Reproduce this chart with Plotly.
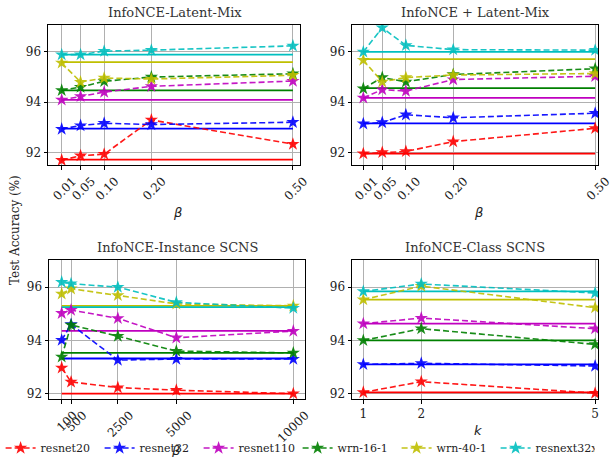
import plotly.graph_objects as go
from plotly.subplots import make_subplots

models = ["resnet20", "resnet32", "resnet110", "wrn-16-1", "wrn-40-1", "resnext32x4"]
colors = ["#ff0000", "#0000ff", "#bf00bf", "#008000", "#bfbf00", "#00bfbf"]

beta = [0.01, 0.05, 0.10, 0.20, 0.50]
beta_labels = ["0.01", "0.05", "0.10", "0.20", "0.50"]
neg_sizes = [100, 500, 2500, 5000, 10000]
k_vals = [1, 2, 5]

# InfoNCE-Latent-Mix
lm_vals = [
    [91.69, 91.87, 91.93, 93.29, 92.33],
    [92.93, 93.07, 93.16, 93.11, 93.20],
    [94.09, 94.23, 94.40, 94.63, 94.84],
    [94.47, 94.60, 94.83, 95.00, 95.13],
    [95.56, 94.80, 94.96, 94.92, 95.07],
    [95.89, 95.89, 96.03, 96.07, 96.24],
]
lm_base = [91.71, 92.95, 94.09, 94.47, 95.59, 95.89]

# InfoNCE + Latent-Mix
plm_vals = [
    [91.95, 92.00, 92.04, 92.43, 92.96],
    [93.14, 93.19, 93.50, 93.38, 93.56],
    [94.17, 94.50, 94.44, 94.90, 95.03],
    [94.54, 94.98, 94.81, 95.10, 95.33],
    [95.67, 94.81, 94.98, 95.08, 95.14],
    [96.00, 96.96, 96.26, 96.09, 96.07],
]
plm_base = [91.95, 93.16, 94.17, 94.56, 95.71, 96.00]

# InfoNCE-Instance SCNS
inst_vals = [
    [92.97, 92.44, 92.23, 92.13, 92.00],
    [94.01, 94.60, 93.26, 93.30, 93.30],
    [95.02, 95.14, 94.83, 94.10, 94.35],
    [93.38, 94.58, 94.16, 93.60, 93.53],
    [95.75, 95.94, 95.69, 95.37, 95.30],
    [96.19, 96.13, 96.00, 95.43, 95.21],
]
inst_base = [92.00, 93.32, 94.36, 93.53, 95.30, 95.25]

# InfoNCE-Class SCNS
cls_vals = [
    [92.05, 92.45, 92.02],
    [93.10, 93.14, 93.04],
    [94.63, 94.84, 94.44],
    [94.00, 94.44, 93.85],
    [95.53, 96.04, 95.23],
    [95.84, 96.12, 95.78],
]
cls_base = [92.05, 93.10, 94.63, 94.00, 95.53, 95.84]

titles = ["InfoNCE-Latent-Mix", "InfoNCE + Latent-Mix", "InfoNCE-Instance SCNS", "InfoNCE-Class SCNS"]

fig = make_subplots(rows=2, cols=2)
W, H = 613, 457
MB = 30            # bottom margin holding the legend
PH = H - MB        # plot-area height in px
FONT = "DejaVu Serif"

panels = [
    (1, 1, beta, lm_vals, lm_base),
    (1, 2, beta, plm_vals, plm_base),
    (2, 1, neg_sizes, inst_vals, inst_base),
    (2, 2, k_vals, cls_vals, cls_base),
]

for pi, (r, c, xs, vals, base) in enumerate(panels):
    for mi, m in enumerate(models):
        fig.add_trace(go.Scatter(
            x=[xs[0], xs[-1]], y=[base[mi], base[mi]], mode="lines",
            line=dict(color=colors[mi], width=1.8), showlegend=False, hoverinfo="skip"),
            row=r, col=c)
    for mi, m in enumerate(models):
        fig.add_trace(go.Scatter(
            x=xs, y=vals[mi], mode="lines+markers", name=m,
            line=dict(color=colors[mi], width=1.6, dash="6px,3px"),
            marker=dict(symbol="star", size=10, color=colors[mi]),
            opacity=0.9, showlegend=(pi == 0)),
            row=r, col=c)

def px_x(x):
    return x / W
def px_y(y):
    return (PH - y) / PH
def xd(a, b):
    return [px_x(a), px_x(b)]
def yd(top, bot):
    return [px_y(bot), px_y(top)]

axis_common = dict(showline=True, linecolor="black", linewidth=1, mirror=True,
                   showgrid=True, gridcolor="#b0b0b0", gridwidth=0.8,
                   ticks="outside", ticklen=3.5, tickcolor="black", zeroline=False,
                   tickfont=dict(family=FONT, size=12, color="#222"))

fig.update_layout(
    xaxis=dict(domain=xd(48, 300), range=[-0.019, 0.515], tickvals=beta, ticktext=beta_labels,
               tickangle=-45, ticklabelshift=11, anchor="y", **axis_common),
    yaxis=dict(domain=yd(25, 165), range=[91.5, 97.07], tickvals=[92, 94, 96], anchor="x", **axis_common),
    xaxis2=dict(domain=xd(352, 598), range=[-0.0139, 0.506], tickvals=beta, ticktext=beta_labels,
                tickangle=-45, ticklabelshift=11, anchor="y2", **axis_common),
    yaxis2=dict(domain=yd(25, 165), range=[91.5, 97.07], tickvals=[92, 94, 96], anchor="x2", **axis_common),
    xaxis3=dict(domain=xd(49, 305), range=[-443, 10500], tickvals=neg_sizes,
                ticktext=[str(v) for v in neg_sizes], tickangle=-45, ticklabelshift=12,
                anchor="y3", **axis_common),
    yaxis3=dict(domain=yd(260, 399), range=[91.8, 97.02], tickvals=[92, 94, 96], anchor="x3", **axis_common),
    xaxis4=dict(domain=xd(352, 598), range=[0.805, 5.05], tickvals=k_vals,
                ticktext=[str(v) for v in k_vals], tickangle=0, anchor="y4", **axis_common),
    yaxis4=dict(domain=yd(260, 399), range=[91.8, 97.02], tickvals=[92, 94, 96], anchor="x4", **axis_common),
)

annos = [
    (titles[0], 175, 12), (titles[1], 475, 12),
    (titles[2], 177, 247), (titles[3], 475, 247),
]
for t, x, y in annos:
    fig.add_annotation(text=t, x=px_x(x), y=px_y(y), xref="paper", yref="paper",
                       showarrow=False, xanchor="center", yanchor="middle",
                       font=dict(family=FONT, size=13, color="#333"))

labels = [
    ("<i>β</i>", 177, 212), ("<i>β</i>", 478, 212),
    ("<i>β</i>", 176, 450), ("<i>k</i>", 478, 430),
]
for t, x, y in labels:
    fig.add_annotation(text=t, x=px_x(x), y=px_y(y), xref="paper", yref="paper",
                       showarrow=False, xanchor="center", yanchor="middle",
                       font=dict(family="DejaVu Sans", size=13, color="#222"))

fig.add_annotation(text="Test Accuracy (%)", x=px_x(15), y=px_y(230), xref="paper", yref="paper",
                   showarrow=False, textangle=-90, xanchor="center", yanchor="middle",
                   font=dict(family=FONT, size=12, color="#222"))

fig.update_layout(
    width=W, height=H, margin=dict(l=0, r=0, t=0, b=MB, autoexpand=False),
    paper_bgcolor="white", plot_bgcolor="white",
    showlegend=True,
    legend=dict(orientation="h", x=0.001, y=px_y(448), xanchor="left", yanchor="middle",
                entrywidth=54, entrywidthmode="pixels", itemwidth=30,
                font=dict(family=FONT, size=11, color="#222"),
                bgcolor="rgba(0,0,0,0)", tracegroupgap=0),
)

fig.write_html("out.html")
